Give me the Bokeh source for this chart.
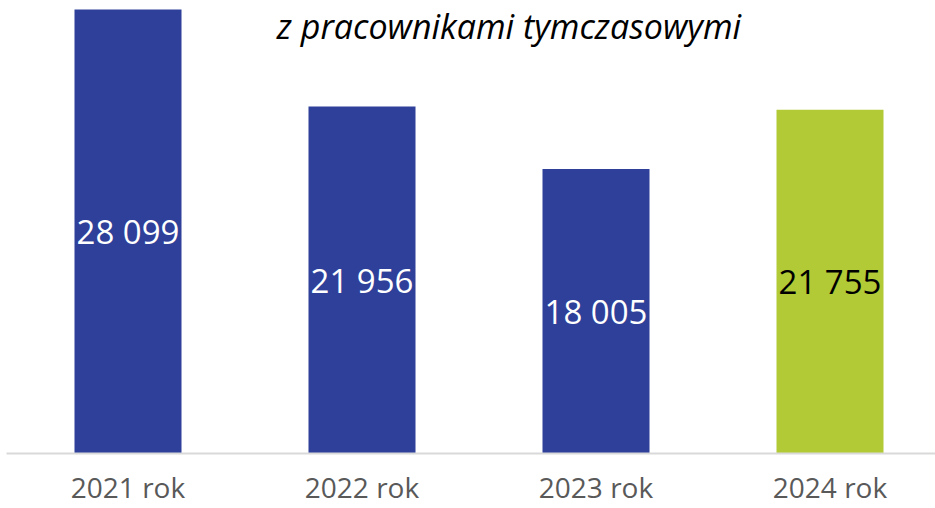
from bokeh.plotting import figure
from bokeh.models import ColumnDataSource, Range1d, FixedTicker, Label
from bokeh.core.properties import value
from bokeh.embed import file_html
from bokeh.resources import INLINE

categories = ["2021 rok", "2022 rok", "2023 rok", "2024 rok"]
values = [28099, 21956, 18005, 21755]
value_labels = ["28 099", "21 956", "18 005", "21 755"]
bar_colors = ["#2E4099", "#2E4099", "#2E4099", "#B1CA35"]
label_colors = ["#FFFFFF", "#FFFFFF", "#FFFFFF", "#000000"]
title_text = "z pracownikami tymczasowymi"

xs = list(range(len(categories)))
src = ColumnDataSource(dict(
    x=xs, top=values, mid=[v / 2 for v in values],
    lab=value_labels, color=bar_colors, tcolor=label_colors,
))

W, H = 935, 508
base_px = 453          # canvas y of the baseline
top_px = 9             # canvas y of the tallest bar
px_per_cat = 234.0
x_start = -127.5 / px_per_cat
x_end = x_start + W / px_per_cat
u = max(values) / (base_px - top_px)   # data units per pixel
y_end = max(values) + top_px * u
y_start = -(H - base_px) * u

p = figure(width=W, height=H, output_backend="svg", toolbar_location=None,
           x_range=Range1d(x_start, x_end), y_range=Range1d(y_start, y_end),
           min_border_left=0, min_border_right=0, min_border_top=0,
           min_border_bottom=0)
p.outline_line_color = None
p.xgrid.visible = False
p.ygrid.visible = False
p.yaxis.visible = False
p.background_fill_color = "white"
p.border_fill_color = "white"

p.vbar(x="x", top="top", width=107 / px_per_cat, bottom=0, source=src,
       fill_color="color", line_color=None)
p.text(x="x", y="mid", text="lab", source=src, text_color="tcolor",
       text_align="center", text_baseline="middle",
       text_font=value("Open Sans"), text_font_size="33px")

ax = p.xaxis[0]
ax.fixed_location = 0
ax.bounds = (x_start + 6 / px_per_cat, x_end)
ax.ticker = FixedTicker(ticks=xs)
ax.major_label_overrides = {i: c for i, c in zip(xs, categories)}
ax.major_tick_line_color = None
ax.minor_tick_line_color = None
ax.major_tick_out = 0
ax.major_tick_in = 0
ax.minor_tick_out = 0
ax.minor_tick_in = 0
ax.axis_line_color = "#D9D9D9"
ax.axis_line_width = 2
ax.major_label_text_font = "Open Sans"
ax.major_label_text_font_size = "28px"
ax.major_label_text_color = "#595959"
ax.major_label_standoff = 14

title_x = x_start + 508.5 / px_per_cat
title_y = y_end - 25 * u
p.add_layout(Label(x=title_x, y=title_y, text=title_text, text_align="center",
                   text_baseline="alphabetic", text_font="Open Sans",
                   text_font_style="italic", text_font_size="34px",
                   text_color="#000000"))

open("out.html", "w").write(file_html(p, INLINE))
